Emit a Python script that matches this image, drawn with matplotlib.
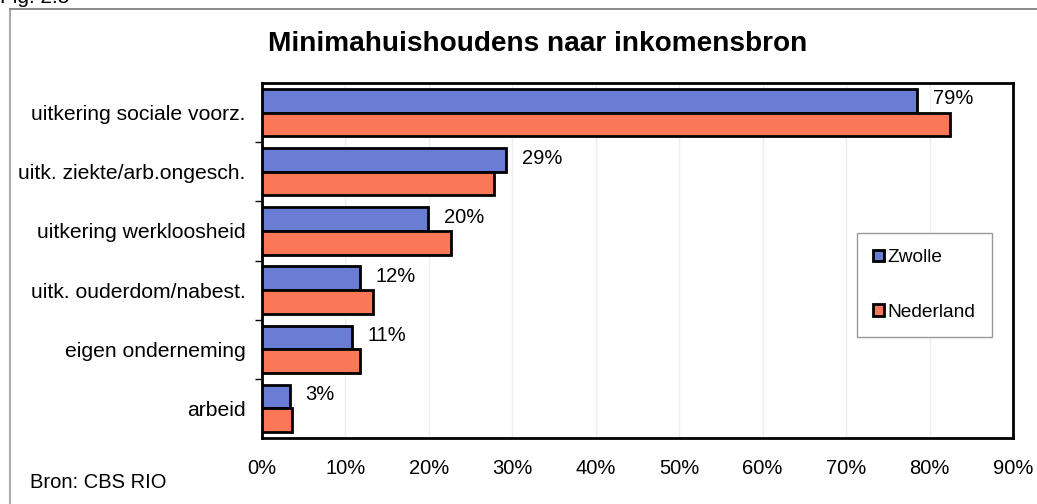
import matplotlib.pyplot as plt
from matplotlib.lines import Line2D

plt.rcParams['font.family'] = ['Liberation Sans', 'DejaVu Sans']

categories = ["uitkering sociale voorz.", "uitk. ziekte/arb.ongesch.",
              "uitkering werkloosheid", "uitk. ouderdom/nabest.",
              "eigen onderneming", "arbeid"]
zwolle = [78.5, 29.3, 19.9, 11.7, 10.8, 3.3]
nederland = [82.4, 27.8, 22.7, 13.3, 11.7, 3.6]
labels = ["79%", "29%", "20%", "12%", "11%", "3%"]
xticks = list(range(0, 100, 10))

blue = "#6A7DD4"
orange = "#FA7857"

fig = plt.figure(figsize=(10.37, 5.04), dpi=100)
ax = fig.add_axes([262 / 1037, 66 / 504, 751 / 1037, 355 / 504])

# outer frame
fig.add_artist(Line2D([10 / 1037, 10 / 1037], [0, 1 - 9 / 504],
                      transform=fig.transFigure, color="#aaaaaa", lw=1.5))
fig.add_artist(Line2D([10 / 1037, 1], [1 - 9 / 504, 1 - 9 / 504],
                      transform=fig.transFigure, color="#777777", lw=1.2))

ypos = list(range(len(categories)))
h = 0.4
ax.barh([y - h / 2 for y in ypos], zwolle, height=h, color=blue,
        edgecolor="black", linewidth=2, label="Zwolle", zorder=3)
ax.barh([y + h / 2 for y in ypos], nederland, height=h, color=orange,
        edgecolor="black", linewidth=2, label="Nederland", zorder=3)

for y, v, t in zip(ypos, zwolle, labels):
    ax.text(v + 1.9, y - h / 2 - 0.03, t, va="center", ha="left", fontsize=14.5)

ax.set_xlim(0, 90)
ax.set_ylim(len(categories) - 0.5, -0.5)
ax.set_xticks(xticks)
ax.set_xticklabels([f"{x}%" for x in xticks], fontsize=14.5)
ax.tick_params(axis="x", length=0, pad=15)
ax.set_yticks(ypos)
ax.set_yticklabels(categories, fontsize=15.2)
ax.set_yticks([y + 0.5 for y in ypos[:-1]], minor=True)
ax.tick_params(axis="y", which="major", length=0, pad=12)
ax.tick_params(axis="y", which="minor", length=5, width=1, direction="out")
ax.grid(axis="x", color="#eeeeee", lw=1, zorder=0)
for s in ax.spines.values():
    s.set_linewidth(2)

fig.text(538 / 1037, 1 - 51 / 504, "Minimahuishoudens naar inkomensbron",
         fontsize=20.2, fontweight="bold", ha="center", va="baseline")

leg = ax.legend(loc="upper left", bbox_to_anchor=(857 / 1037, 1 - 233 / 504),
                bbox_transform=fig.transFigure, fontsize=13.8, fancybox=False,
                framealpha=1, edgecolor="#999999", handlelength=0.55,
                handleheight=0.55, handletextpad=0.2, labelspacing=1.95,
                borderpad=0.85, borderaxespad=0)
leg.get_frame().set_linewidth(1)

fig.text(30 / 1037, 1 - 483 / 504, "Bron: CBS RIO", fontsize=14.5,
         va="center", ha="left")
fig.text(0.0, 1 - 3 / 504, "Fig. 2.5", fontsize=15, va="baseline", ha="left")

fig.savefig("out.png", dpi=100)
